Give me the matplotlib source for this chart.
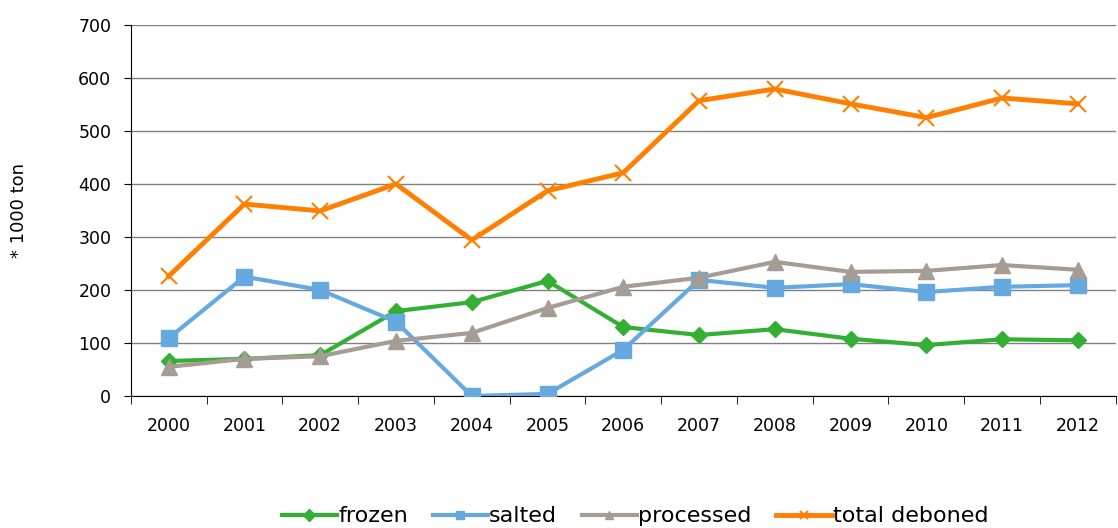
import numpy as np
from matplotlib import pyplot as plt

years = ["2000", "2001", "2002", "2003", "2004", "2005", "2006",
         "2007", "2008", "2009", "2010", "2011", "2012"]
frozen = [66, 70, 77, 160, 177, 217, 130, 115, 126, 108, 96, 107, 105]
salted = [109, 225, 200, 140, 0, 4, 87, 219, 204, 211, 196, 206, 209]
processed = [55, 70, 75, 104, 119, 166, 206, 223, 253, 234, 236, 247, 238]
total_deboned = [226, 362, 349, 400, 294, 387, 421, 557, 579, 551, 525, 562, 551]

fig = plt.figure(figsize=(11.18, 5.28), dpi=100)
ax = fig.add_axes([0.117, 0.25, 0.881, 0.703])

x = np.arange(len(years))
ax.plot(x, frozen, color="#33B033", lw=3, marker="D", ms=8, label="frozen", zorder=3)
ax.plot(x, salted, color="#66A9E0", lw=3, marker="s", ms=11, label="salted", zorder=3)
ax.plot(x, processed, color="#A59C94", lw=3, marker="^", ms=11, label="processed", zorder=3)
ax.plot(x, total_deboned, color="#FF7F00", lw=3.5, marker="x", ms=11, mew=1.5,
        label="total deboned", zorder=4)

ax.set_xlim(-0.5, len(years) - 0.5)
ax.set_ylim(0, 700)
ax.set_yticks(np.arange(0, 701, 100))
ax.set_xticks(x)
ax.set_xticklabels(years)
ax.set_xticks(np.arange(-0.5, len(years), 1), minor=True)
ax.tick_params(axis="x", which="major", length=0, labelsize=12.5, pad=15)
ax.tick_params(axis="x", which="minor", length=6, color="black")
ax.tick_params(axis="y", length=5, labelsize=12.5, pad=9)
ax.grid(axis="y", color="#808080", lw=1)
ax.set_axisbelow(True)
for s in ["top", "right"]:
    ax.spines[s].set_visible(False)
ax.set_ylabel("* 1000 ton", fontsize=13, labelpad=36)

leg = fig.legend(loc="lower center", ncol=4, frameon=False, fontsize=16,
                 bbox_to_anchor=(0.568, -0.035), handlelength=2.5,
                 columnspacing=1.1, handletextpad=0.05)
for h in leg.legend_handles:
    h.set_markersize(6)

plt.savefig("out.png")
